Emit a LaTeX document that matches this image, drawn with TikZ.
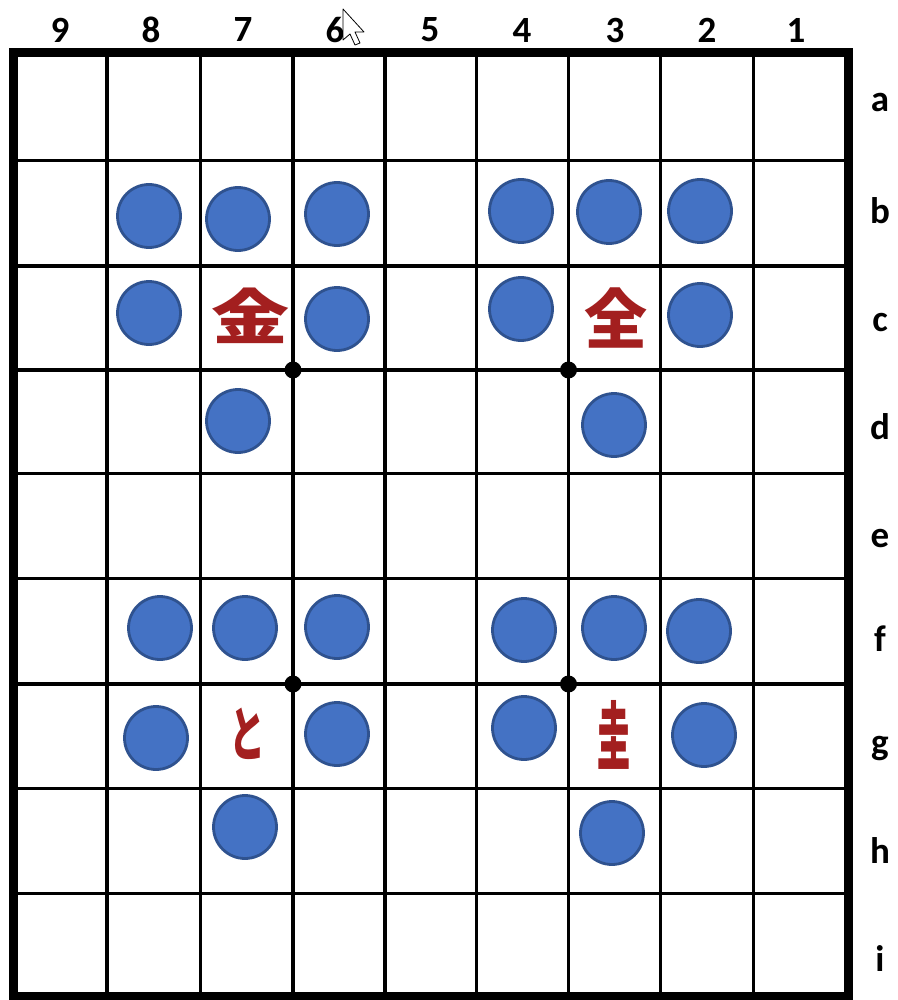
\documentclass[tikz,border=0pt]{standalone}
\usepackage{fontspec}
\usepackage{graphicx}
\setmainfont{Carlito}
\newfontfamily\jpfont{Noto Sans CJK JP}
\definecolor{stoneblue}{HTML}{4472C4}
\definecolor{stoneedge}{HTML}{2F528F}
\definecolor{komared}{HTML}{A31F1F}
\tikzset{
  stone/.style={circle, fill=stoneblue, draw=stoneedge, line width=2.8pt, minimum size=63pt, inner sep=0pt},
  komatext/.style={text=komared, inner sep=0pt, font=\jpfont\bfseries\fontsize{60}{60}\selectfont},
  lbl/.style={inner sep=0pt, font=\fontsize{37}{37}\selectfont\bfseries},
  gridline/.style={line width=3.1pt},
  hoshi/.style={circle, fill=black, minimum size=17pt, inner sep=0pt}
}
\begin{document}
\begin{tikzpicture}[x=1pt,y=-1pt]
\useasboundingbox (0,0) rectangle (897,1000);
\fill[white] (0,0) rectangle (897,1000);
% grid
\foreach \xx in {107,200.5,385,476.5,568.5,660.7,753.3}
  \draw[gridline] (\xx,52.5) -- (\xx,996.5);
\draw[gridline, line width=3.8pt] (293,52.5) -- (293,996.5);
\foreach \yy in {160.7,266,473.3,578.5,684,788.7,893.3}
  \draw[gridline] (13.5,\yy) -- (848.5,\yy);
\draw[gridline, line width=3.8pt] (13.5,370) -- (848.5,370);
\draw[line width=9pt] (13.5,52.5) rectangle (848.5,996.5);
% hoshi
\node[hoshi] (h1) at (293,370) {};
\node[hoshi] (h2) at (568.5,370) {};
\node[hoshi] (h3) at (293,684) {};
\node[hoshi] (h4) at (568.5,684) {};
% column labels
\node[lbl] (c9) at (60,30) {9};
\node[lbl] (c8) at (151,30) {8};
\node[lbl] (c7) at (243,30) {7};
\node[lbl] (c6) at (335,30) {6};
\node[lbl] (c5) at (430,30) {5};
\node[lbl] (c4) at (522,30) {4};
\node[lbl] (c3) at (615,30) {3};
\node[lbl] (c2) at (707,30) {2};
\node[lbl] (c1) at (796,30) {1};
% row labels
\node[lbl, anchor=base] (ra) at (880,112) {a};
\node[lbl, anchor=base] (rb) at (880,223) {b};
\node[lbl, anchor=base] (rc) at (880,331) {c};
\node[lbl, anchor=base] (rd) at (880,439) {d};
\node[lbl, anchor=base] (re) at (880,547) {e};
\node[lbl, anchor=base] (rf) at (880,651) {f};
\node[lbl, anchor=base] (rg) at (880,754) {g};
\node[lbl, anchor=base] (rh) at (880,863) {h};
\node[lbl, anchor=base] (ri) at (880,971) {i};
% stones
\node[stone] (s8b) at (149,216) {};
\node[stone] (s7b) at (238,219) {};
\node[stone] (s6b) at (337,214) {};
\node[stone] (s4b) at (521,211) {};
\node[stone] (s3b) at (609,212) {};
\node[stone] (s2b) at (700,211) {};
\node[stone] (s8c) at (149,313) {};
\node[stone] (s6c) at (337,319) {};
\node[stone] (s4c) at (521,309) {};
\node[stone] (s2c) at (700,315) {};
\node[stone] (s7d) at (238,421) {};
\node[stone] (s3d) at (614,425) {};
\node[stone] (s8f) at (160,628) {};
\node[stone] (s7f) at (245,628) {};
\node[stone] (s6f) at (337,627) {};
\node[stone] (s4f) at (524,630) {};
\node[stone] (s3f) at (614,628) {};
\node[stone] (s2f) at (699,631) {};
\node[stone] (s8g) at (156,738) {};
\node[stone] (s6g) at (337,734) {};
\node[stone] (s4g) at (524,728) {};
\node[stone] (s2g) at (704,735) {};
\node[stone] (s7h) at (245,827) {};
\node[stone] (s3h) at (612,833) {};
% pieces
\node[komatext] (k7c) at (250,316) {\scalebox{1.3}[1.0]{金}};
\node[komatext] (k3c) at (616,318) {\scalebox{1.05}[1.08]{全}};
\node[komatext] (k7g) at (247,734) {\scalebox{0.6}[1.0]{と}};
\node[komatext] (k3g) at (614,735) {\scalebox{0.55}[1.25]{圭}};
% cursor
\draw[fill=white, line width=0.8pt, line join=round] (343,9) -- (343,40) -- (350,34) -- (355,45) -- (360,43) -- (355,32) -- (364,32) -- cycle;
\end{tikzpicture}
\end{document}
